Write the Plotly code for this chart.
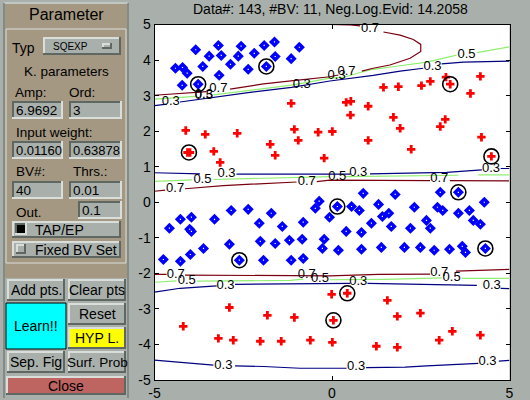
import plotly.graph_objects as go

W, H = 530, 400

title_text = "Data#: 143, #BV: 11, Neg.Log.Evid: 14.2058"

# class +1 points
blue_x = [-3.84, -3.20, -2.56, -1.91, -1.62, -0.92, -3.46, -3.12, -2.64, -2.19, -1.60, -1.15, -4.41, -4.21, -4.08,
          -3.64, -2.86, -2.36, -1.85, -3.18, -4.22, -3.77,
          0.88, 1.78, 3.05, 3.56, 4.29, 0.15, 0.55, 0.77, 1.31, 2.32, 2.97, 3.12, 3.56, 3.87, 3.98, 4.18, 1.42, 1.60,
          2.66, 2.77, 1.11, 1.67, 2.21, 0.40, 0.83, 0.18, 0.83, 1.39, 2.04, 2.49, 2.88, 3.31, 3.67, 3.76, 4.32,
          -4.58, -4.27, -3.96, -4.01, -3.96, -3.31, -2.84, -2.36, -1.71, -2.05, -1.40, -0.81, -0.36, -0.47, -0.07,
          -2.02, -1.60, -1.20, -0.84, -0.22, -0.27, -2.89, -3.62, -3.99, -4.75, -4.27, -2.61, -1.93, -1.15, -0.81]
blue_y = [4.29, 4.41, 4.39, 4.41, 4.51, 4.36, 4.11, 4.13, 4.11, 4.19, 4.10, 4.04, 3.77, 3.79, 3.63,
          3.82, 3.88, 3.74, 3.82, 3.57, 3.29, 3.32,
          0.25, 0.22, 0.28, 0.28, 0.00, -0.12, -0.12, -0.23, -0.06, -0.14, -0.14, -0.23, -0.31, -0.23, -0.51, -0.62,
          -0.40, -0.31, -0.51, -0.73, -0.59, -0.68, -0.73, -0.82, -0.85, -1.35, -1.32, -1.27, -1.27, -1.27, -1.35,
          -1.32, -1.24, -1.41, -1.30,
          -0.73, -0.48, -0.42, -0.76, -0.82, -0.48, -0.23, -0.20, -0.31, -0.59, -0.68, -0.56, 0.03, -0.17, -0.42,
          -1.10, -1.16, -1.07, -1.04, -1.04, -1.30, -1.18, -1.30, -1.47, -1.61, -1.66, -1.63, -1.63, -1.63, -1.58]

# class -1 points
red_x = [-4.12, -3.57, -2.67, -1.74, -1.60, -3.33, -3.15, -4.00, -4.07, -1.15, -1.06, -0.95, -0.39, -0.22, 0.01,
         1.45, 1.87, 2.52, 2.77, 3.21, 3.33, 4.18, 3.90, 0.40, 0.53, 1.02, 0.52, 1.73, 1.92, 3.19, 3.05, 4.21, 1.02,
         2.23, 4.49,
         -2.89, -4.19, -1.82, -1.06, -3.20, -2.78, -2.02, -1.43, -0.61, -0.01, 0.43, 0.04, 0.01, 1.56, 1.84, 2.49,
         3.39, 3.02, 4.18, 1.25, 1.84]
red_y = [2.02, 1.91, 1.94, 1.63, 1.32, 1.43, 1.12, 1.40, 1.40, 2.78, 2.05, 1.74, 1.97, 1.24, 1.99,
         3.23, 3.25, 3.28, 3.40, 3.52, 3.32, 3.54, 3.06, 2.81, 2.84, 2.70, 2.45, 2.39, 2.08, 2.33, 2.13, 1.83, 1.74,
         1.49, 1.29,
         -2.96, -3.49, -3.18, -3.24, -3.83, -3.88, -3.91, -3.91, -3.88, -2.59, -2.56, -3.32, -3.94, -2.76, -3.21,
         -3.12, -3.63, -3.88, -3.74, -4.05, -4.08]

# basis vectors
bv_x = [-3.77, -1.85, -4.03, 3.33, 4.49, 0.15, 3.56, -2.61, 4.32, 0.43, 0.04]
bv_y = [3.32, 3.82, 1.40, 3.32, 1.29, -0.12, 0.28, -1.63, -1.30, -2.56, -3.32]

# contour lines, None is where the inline label breaks the line
c03_x = [-5, -4.65, None, -4.28, -3.34, -2.31, -1.14, -0.06, 1.16, 1.92, 2.57, None, 3.09, 3.70, 5, None,
         -5, -3.72, None, -2.69, -0.06, 0.51, None, 1.07, 1.92, 3.23, 4.22, None, 4.75, 5, None,
         -5, -4.28, -3.25, None, -2.73, -0.06, 0.51, None, 1.00, 2.29, 4.08, None, 4.75, 5, None,
         -5, -4.19, -3.34, None, -2.73, -1.93, -0.90, -0.06, 0.41, None, 0.96, 2.06, 2.67, 4.12, None, 4.70, 5]
c03_y = [2.72, 2.76, None, 2.82, 2.95, 3.09, 3.23, 3.41, 3.57, 3.69, 3.77, None, 3.89, 3.94, 3.97, None,
         0.83, 0.80, None, 0.79, 0.79, 0.79, None, 0.80, 0.82, 0.84, 0.91, None, 0.95, 0.95, None,
         -2.53, -2.42, -2.35, None, -2.31, -2.29, -2.28, None, -2.28, -2.30, -2.34, None, -2.42, -2.43, None,
         -4.44, -4.51, -4.58, None, -4.60, -4.62, -4.67, -4.67, -4.67, None, -4.65, -4.64, -4.60, -4.53, None,
         -4.47, -4.45]
c05_x = [-5, -4.28, -3.85, None, -3.34, -2.87, -1.93, -1.09, -0.06, 0.32, 0.79, 1.16, 1.92, 2.67, 3.51, None, 4.08,
         4.45, 5, None,
         -5, -3.95, None, -3.34, -0.06, None, 0.37, 2.76, 3.56, None, 4.12, 5, None,
         -5, -4.38, None, -3.81, -1.18, -0.81, None, -0.06, 1.49, 3.09, None, 3.65, 5]
c05_y = [2.90, 2.95, 2.98, None, 3.02, 3.08, 3.18, 3.30, 3.49, 3.51, 3.65, 3.74, 3.84, 3.94, 4.14, None, 4.21,
         4.28, 4.37, None,
         0.59, 0.63, None, 0.64, 0.72, None, 0.72, 0.75, 0.76, None, 0.77, 0.77, None,
         -2.25, -2.21, None, -2.22, -2.20, -2.16, None, -2.18, -2.17, -2.13, None, -2.14, -2.14]
c07_x = [-5, -4.28, -3.53, None, -2.87, -1.93, -1.09, -0.06, 0.18, None, 0.84, 1.16, 1.63, 2.20, 2.50, 2.50, 2.29,
         1.92, 1.45, None, 0.79, 0.51, -0.06, None,
         -5, -4.70, None, -4.14, -3.06, -1.00, None, -0.43, -0.06, 2.76, None, 3.32, 5, None,
         -5, -4.66, None, -4.14, -0.06, 1.31, 2.76, None, 3.49, 4.50, 5]
c07_y = [3.01, 3.06, 3.11, None, 3.18, 3.33, 3.42, 3.53, 3.58, None, 3.69, 3.77, 3.86, 4.05, 4.24, 4.44, 4.58,
         4.70, 4.79, None, 4.96, 4.99, 5.00, None,
         0.31, 0.34, None, 0.38, 0.47, 0.57, None, 0.58, 0.62, 0.61, None, 0.61, 0.60, None,
         -2.03, -2.03, None, -2.05, -2.07, -2.03, -2.02, None, -1.94, -1.90, -1.89]

# inline contour labels
label_text = ["0.3", "0.3", "0.3", "0.5", "0.7", "0.3", "0.7", "0.3", "0.5", "0.7",
              "0.3", "0.3", "0.3", "0.5", "0.7", "0.5", "0.7", "0.7",
              "0.7", "0.5", "0.3", "0.7", "0.5", "0.3", "0.7", "0.5", "0.3", "0.3", "0.3", "0.3"]
label_x = [-4.54, -3.61, -0.85, -3.61, -3.20, 0.13, 0.41, 2.83, 3.79, 1.07,
           -2.97, 0.74, 4.48, -3.65, -4.42, 0.15, -0.71, 3.02,
           -4.40, -4.09, -3.00, -0.71, -0.34, 0.74, 3.02, 3.37, 4.50, -3.06, 0.68, 4.38]
label_y = [2.83, 3.02, 3.30, 2.99, 3.18, 3.55, 3.67, 3.80, 4.16, 4.89,
           0.81, 0.84, 0.94, 0.63, 0.39, 0.72, 0.58, 0.67,
           -2.03, -2.22, -2.35, -2.05, -2.14, -2.25, -1.97, -2.11, -2.35, -4.60, -4.64, -4.48]

x_ticks = [-5, 0, 5]
y_ticks = [-5, -4, -3, -2, -1, 0, 1, 2, 3, 4, 5]

GRAY = "#A9B0AB"
TAN = "#A59882"
LIGHT = "#D9DEDA"
DARK = "#5F6763"
FONT = "Liberation Sans"

shapes = []
annotations = []


def rect(x0, y0, x1, y1, fill, line=None):
    shapes.append(dict(type="rect", xref="paper", yref="paper", x0=x0 / W, x1=x1 / W, y0=1 - y0 / H, y1=1 - y1 / H,
                       fillcolor=fill, line=dict(color=line or fill, width=1 if line else 0)))


def edge(x0, y0, x1, y1, colour, width=2):
    shapes.append(dict(type="line", xref="paper", yref="paper", x0=x0 / W, x1=x1 / W, y0=1 - y0 / H, y1=1 - y1 / H,
                       line=dict(color=colour, width=width)))


def bevel(x0, y0, x1, y1, fill=GRAY, raised=True):
    top, bottom = (LIGHT, DARK) if raised else (DARK, LIGHT)
    rect(x0, y0, x1, y1, fill)
    edge(x0, y0 + 1, x1, y0 + 1, top)
    edge(x0 + 1, y0, x0 + 1, y1, top)
    edge(x0, y1 - 1, x1, y1 - 1, bottom)
    edge(x1 - 1, y0, x1 - 1, y1, bottom)


def text(x, y, s, size=13.5, anchor="left", colour="black"):
    annotations.append(dict(xref="paper", yref="paper", x=x / W, y=1 - y / H, text=s, showarrow=False,
                            xanchor=anchor, yanchor="middle", borderpad=0,
                            font=dict(family=FONT, size=size, color=colour)))


def button(x0, y0, x1, y1, s, fill=GRAY, size=13.5):
    bevel(x0, y0, x1, y1, fill)
    text((x0 + x1) / 2, (y0 + y1) / 2, s, size, "center")


def field(x0, y0, x1, y1, s, size=13.5):
    bevel(x0, y0, x1, y1, raised=False)
    text(x0 + 3, (y0 + y1) / 2, s, size)


# left control panel
rect(4, 3, 128, 398, GRAY)
edge(4, 3, 128, 3, LIGHT, 1)
edge(4, 3, 4, 398, DARK, 1)
edge(128, 3, 128, 398, DARK, 1)
rect(5, 4, 127, 278, TAN)
text(66, 14, "Parameter", 16, "center")
shapes.append(dict(type="rect", xref="paper", yref="paper", x0=6 / W, x1=126 / W, y0=1 - 263 / H, y1=1 - 29 / H,
                   line=dict(color=LIGHT, width=1)))
text(11, 48, "Typ", 14)
button(43, 37, 121, 55, "", size=10)
text(52, 46, "SQEXP", 10)
bevel(102, 43, 112, 49)
text(66.5, 72, "K. parameters", 13.5, "center")
text(14, 92, "Amp:")
text(68, 92, "Ord:")
field(12, 101, 63, 119, "6.9692")
field(69, 101, 122, 119, "3")
text(15, 132, "Input weight:")
field(12, 141, 63, 159, "0.01160", 13)
field(69, 141, 122, 159, "0.63878", 13)
text(15, 172, "BV#:")
text(72, 172, "Thrs.:")
field(12, 181, 63, 199, "40")
field(69, 181, 122, 199, "0.01")
text(15, 212, "Out.")
field(78, 201, 122, 219, "0.1")
bevel(12, 221, 121, 238)
bevel(15, 223, 27, 235, "black", raised=False)
text(34, 229.5, "TAP/EP", 14)
bevel(12, 241, 121, 258)
bevel(16, 244, 26, 254)
text(34, 250, "Fixed BV Set", 14)

button(7, 279, 65, 301, "Add pts.", size=14)
button(68, 279, 126, 301, "Clear pts", size=14)
rect(6, 303, 66, 349, "#00FFFF", "black")
text(36, 326, "Learn!!", 14, "center")
button(68, 303, 126, 325, "Reset", size=14)
button(68, 327, 126, 349, "HYP L.", "#FFFF00", 14)
button(7, 351, 65, 373, "Sep. Fig", size=14)
button(68, 351, 126, 373, "Surf. Prob", size=13.5)
button(6, 376, 126, 395, "Close", "#BE6461", 14)

# plot title
text(330, 9, title_text, 14, "center")

fig = go.Figure()

for cx, cy, colour in [(c03_x, c03_y, "#000080"), (c05_x, c05_y, "#90EE70"), (c07_x, c07_y, "#7A0010")]:
    fig.add_trace(go.Scatter(x=cx, y=cy, mode="lines", line=dict(color=colour, width=1.2), hoverinfo="skip"))

fig.add_trace(go.Scatter(x=label_x, y=label_y, text=label_text, mode="text", cliponaxis=False,
                         textfont=dict(family=FONT, size=13, color="black"), textposition="middle center"))
fig.add_trace(go.Scatter(x=blue_x, y=blue_y, mode="markers", marker=dict(symbol="diamond", size=8.5, color="#0000FF")))
fig.add_trace(go.Scatter(x=blue_x, y=blue_y, mode="markers", marker=dict(symbol="square", size=1.2, color="white")))
fig.add_trace(go.Scatter(x=red_x, y=red_y, mode="markers", marker=dict(symbol="cross", size=7, color="#FF0000")))
fig.add_trace(go.Scatter(x=bv_x, y=bv_y, mode="markers",
                         marker=dict(symbol="circle-open", size=15, color="black", line=dict(color="black", width=1.6))))

axis_style = dict(ticks="inside", ticklen=4, tickcolor="black", tickwidth=1, showline=True, linecolor="black",
                  linewidth=1, mirror="ticks", showgrid=False, zeroline=False,
                  tickfont=dict(family=FONT, size=14, color="black"))

fig.update_layout(
    width=W,
    height=H,
    margin=dict(l=0, r=0, t=0, b=0, pad=0, autoexpand=False),
    paper_bgcolor=GRAY,
    plot_bgcolor="white",
    showlegend=False,
    shapes=shapes,
    annotations=annotations,
    xaxis=dict(domain=[154.5 / W, 509.5 / W], range=[-5, 5], tickvals=x_ticks, ticktext=[str(v) for v in x_ticks],
               **axis_style),
    yaxis=dict(domain=[20 / H, 375.5 / H], range=[-5, 5], tickvals=y_ticks, ticktext=[str(v) for v in y_ticks],
               **axis_style),
)

# page margin would push the figure out of the 530x400 window
fig.write_html("out.html", config={"displayModeBar": False}, post_script="document.body.style.margin = '0';")
